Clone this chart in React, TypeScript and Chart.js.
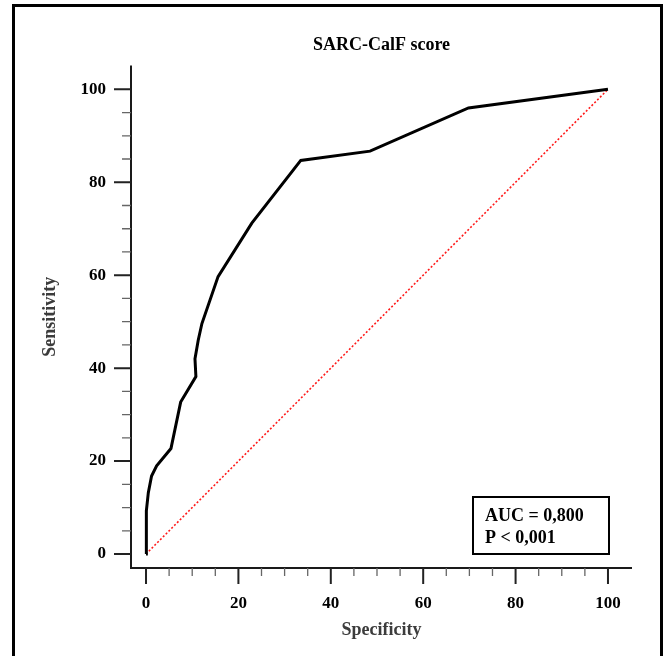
import React, { useEffect, useRef } from "react";
import { Chart, registerables } from "chart.js";

Chart.register(...registerables);

const chartTitle = "SARC-CalF score";
const xAxisTitle = "Specificity";
const yAxisTitle = "Sensitivity";
const tickValues = [0, 20, 40, 60, 80, 100];
const minorTickValues = [5, 10, 15, 25, 30, 35, 45, 50, 55, 65, 70, 75, 85, 90, 95];

const specificity = [0, 0, 0.15, 0.5, 1.2, 2.3, 5.4, 7.5, 10.8, 10.6, 11.3, 12.1, 15.6, 22.9, 33.5, 48.5, 69.8, 100];
const sensitivity = [0, 5.7, 9.3, 13.2, 16.8, 19, 22.7, 32.7, 38.2, 42, 46, 49.6, 59.7, 71.2, 84.7, 86.7, 96, 100];

const refX = [0, 100];
const refY = [0, 100];

const statLines = ["AUC = 0,800", "P < 0,001"];

const FONT = "'Liberation Serif', 'Times New Roman', serif";

const axesPlugin = {
  id: "rocAxes",
  afterDatasetsDraw(chart: any) {
    const { ctx, chartArea, scales } = chart;
    const xs = scales.x;
    const ys = scales.y;
    const left = chartArea.left;
    const bottom = chartArea.bottom;
    ctx.save();
    ctx.strokeStyle = "#1a1a1a";
    ctx.lineWidth = 2;
    ctx.beginPath();
    ctx.moveTo(left, chartArea.top);
    ctx.lineTo(left, bottom);
    ctx.lineTo(chartArea.right, bottom);
    ctx.stroke();
    ctx.lineWidth = 2;
    ctx.strokeStyle = "#222";
    ctx.beginPath();
    tickValues.forEach((v) => {
      const py = ys.getPixelForValue(v);
      ctx.moveTo(left - 17, py);
      ctx.lineTo(left, py);
      const px = xs.getPixelForValue(v);
      ctx.moveTo(px, bottom);
      ctx.lineTo(px, bottom + 16);
    });
    ctx.stroke();
    ctx.lineWidth = 1.3;
    ctx.strokeStyle = "#666";
    ctx.beginPath();
    minorTickValues.forEach((v) => {
      const py = ys.getPixelForValue(v);
      ctx.moveTo(left - 9, py);
      ctx.lineTo(left, py);
      const px = xs.getPixelForValue(v);
      ctx.moveTo(px, bottom);
      ctx.lineTo(px, bottom + 8);
    });
    ctx.stroke();

    const bx = chartArea.right - 159;
    const by = chartArea.bottom - 71;
    const bw = 136;
    const bh = 57;
    ctx.lineWidth = 2;
    ctx.strokeStyle = "#000";
    ctx.strokeRect(bx, by, bw, bh);
    ctx.fillStyle = "#000";
    ctx.font = `bold 18px ${FONT}`;
    ctx.textAlign = "left";
    ctx.textBaseline = "alphabetic";
    ctx.fillText(statLines[0], bx + 12, by + 24);
    ctx.fillText(statLines[1], bx + 12, by + 46);
    ctx.restore();
  },
};

export default function App() {
  const canvasRef = useRef<HTMLCanvasElement | null>(null);

  useEffect(() => {
    if (!canvasRef.current) return;
    const chart = new Chart(canvasRef.current, {
      type: "line",
      data: {
        datasets: [
          {
            label: "ROC",
            data: specificity.map((x, i) => ({ x, y: sensitivity[i] })),
            borderColor: "#000",
            borderWidth: 3,
            pointRadius: 0,
            tension: 0,
            fill: false,
          },
          {
            label: "Reference",
            data: refX.map((x, i) => ({ x, y: refY[i] })),
            borderColor: "#ff1a1a",
            borderWidth: 1.6,
            borderDash: [2, 2],
            pointRadius: 0,
            tension: 0,
            fill: false,
          },
        ],
      },
      options: {
        responsive: false,
        animation: false,
        layout: { padding: { left: 0, right: 36, top: 0, bottom: 0 } },
        plugins: {
          legend: { display: false },
          tooltip: { enabled: false },
          title: {
            display: true,
            text: chartTitle,
            fullSize: false,
            color: "#000",
            font: { family: FONT, size: 18, weight: "bold" },
            padding: { top: 35, bottom: 9 },
          },
        },
        scales: {
          x: {
            type: "linear",
            min: -3.25,
            max: 105.2,
            afterBuildTicks: (scale: any) => {
              scale.ticks = tickValues.map((v) => ({ value: v }));
            },
            afterFit: (scale: any) => {
              scale.height = 88;
            },
            grid: { display: false, drawTicks: false },
            border: { display: false },
            ticks: {
              padding: 25,
              color: "#000",
              font: { family: FONT, size: 17, weight: "bold" },
              maxRotation: 0,
              autoSkip: false,
            },
            title: {
              display: true,
              text: xAxisTitle,
              color: "#3c3c3c",
              font: { family: FONT, size: 18, weight: "bold" },
              padding: { top: 0, bottom: 15 },
            },
          },
          y: {
            type: "linear",
            min: -3.0,
            max: 105.1,
            afterBuildTicks: (scale: any) => {
              scale.ticks = tickValues.map((v) => ({ value: v }));
            },
            afterFit: (scale: any) => {
              scale.width = 131;
            },
            grid: { display: false, drawTicks: false },
            border: { display: false },
            ticks: {
              padding: 25,
              color: "#000",
              font: { family: FONT, size: 17, weight: "bold" },
              autoSkip: false,
            },
            title: {
              display: true,
              text: yAxisTitle,
              color: "#3c3c3c",
              font: { family: FONT, size: 18, weight: "bold" },
              padding: { top: 40, bottom: 0 },
            },
          },
        },
      },
      plugins: [axesPlugin],
    } as any);
    return () => chart.destroy();
  }, []);

  return (
    <div
      style={{
        position: "fixed",
        left: 0,
        top: 0,
        width: 668,
        height: 656,
        background: "#fff",
        overflow: "hidden",
      }}
    >
      <canvas ref={canvasRef} width={668} height={656} style={{ position: "absolute", left: 0, top: 0 }} />
      <div
        style={{
          position: "absolute",
          left: 12,
          top: 4,
          width: 651,
          height: 700,
          border: "3px solid #000",
          boxSizing: "border-box",
          pointerEvents: "none",
        }}
      />
    </div>
  );
}
